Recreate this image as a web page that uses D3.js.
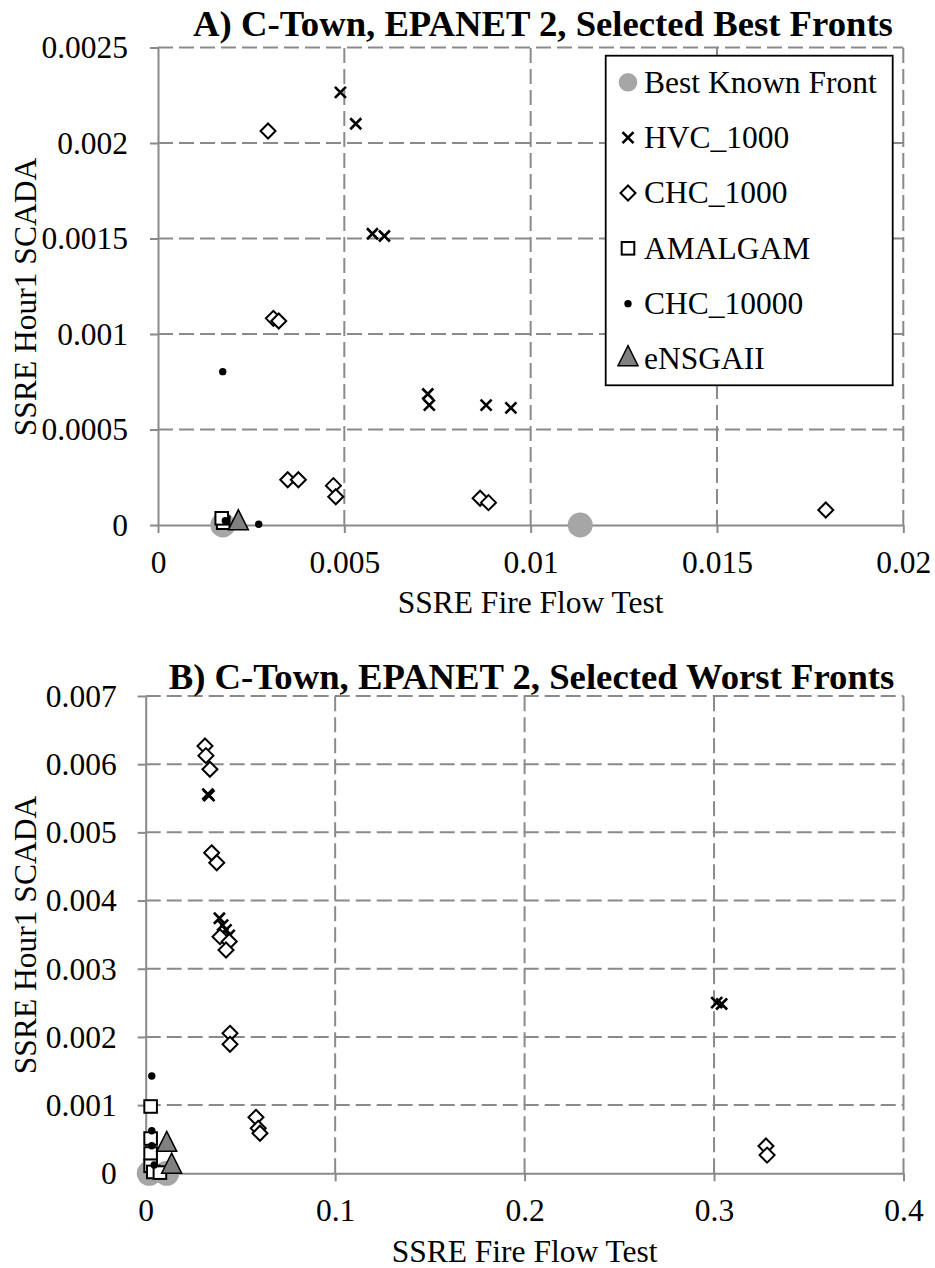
<!DOCTYPE html>
<html>
<head>
<meta charset="utf-8">
<script src="https://cdn.jsdelivr.net/npm/d3@7"></script>
<style>
  body { margin: 0; background: #fff; }
  svg { display: block; }
  text { font-family: "Liberation Serif", "Times New Roman", Times, "DejaVu Serif", serif; }
</style>
</head>
<body>
<svg id="chart" width="935" height="1268"></svg>
<script>
// series names / shapes (shared by both panels)
const seriesNames = ["Best Known Front", "HVC_1000", "CHC_1000", "AMALGAM", "CHC_10000", "eNSGAII"];
const seriesShapes = ["circle", "x", "diamond", "square", "dot", "triangle"];

// Panel A - best fronts  [SSRE fire flow, SSRE hour1]
const bestA = [[0.00174, 0], [0.01133, 0]];
const hvcA = [[0.004895, 0.002265], [0.005307, 0.002101], [0.005754, 0.001525], [0.006076, 0.001513],
              [0.00724, 0.000686], [0.00728, 0.000628], [0.008805, 0.000628], [0.00947, 0.000613]];
const chc1000A = [[0.002953, 0.002063], [0.003096, 0.001082], [0.00324, 0.001068], [0.003481, 0.000237],
                  [0.003767, 0.000237], [0.004707, 0.000206], [0.00477, 0.000148], [0.008644, 0.00014],
                  [0.008868, 0.000117], [0.01792, 0.0000785]];
const amalgamA = [[0.00175, 0.000012], [0.00171, 0.000035]];
const chc10000A = [[0.001737, 0.000803], [0.001808, 0.0000225], [0.002703, 0.000004]];
const ensgaA = [[0.002156, 0.00001]];

// Panel B - worst fronts
const bestB = [[0.0019, 0], [0.0111, 0]];
const hvcB = [[0.0328, 0.00556], [0.0334, 0.00554], [0.0389, 0.00374], [0.0406, 0.00364],
              [0.0424, 0.00357], [0.0441, 0.00349], [0.3014, 0.002502], [0.304, 0.002483]];
const chc1000B = [[0.0313, 0.006267], [0.0318, 0.006125], [0.0339, 0.005925], [0.0348, 0.0047],
                  [0.0375, 0.004555], [0.0392, 0.00347], [0.0441, 0.0034], [0.0424, 0.003275],
                  [0.0445, 0.002053], [0.0445, 0.001892], [0.0582, 0.000821], [0.0594, 0.00066],
                  [0.0603, 0.000587], [0.3274, 0.0004], [0.328, 0.000267]];
const amalgamB = [[0.0026, 0.00098], [0.0026, 0.00051], [0.0026, 0.00029], [0.0026, 0.00011],
                  [0.0040, 0.00002], [0.0075, 0.00001]];
const chc10000B = [[0.0032, 0.001427], [0.0032, 0.000625], [0.0032, 0.000405], [0.0045, 0.000122]];
const ensgaB = [[0.0111, 0.00042], [0.0137, 0.0001]];

// tick values
const xTicksA = [0, 0.005, 0.01, 0.015, 0.02];
const yTicksA = [0, 0.0005, 0.001, 0.0015, 0.002, 0.0025];
const xTicksB = [0, 0.1, 0.2, 0.3, 0.4];
const yTicksB = [0, 0.001, 0.002, 0.003, 0.004, 0.005, 0.006, 0.007];

const FONT = '"Liberation Serif", "Times New Roman", Times, "DejaVu Serif", serif';
const GRID = "#8a8a8a";
const svg = d3.select("#chart");

function drawMarker(g, shape, legend) {
    if (shape === "circle") {
        g.append("circle").attr("r", legend ? 9.3 : 12.5).attr("fill", "#a6a6a6");
    } else if (shape === "x") {
        g.append("path").attr("d", "M-5.5,-5.5L5.5,5.5M-5.5,5.5L5.5,-5.5")
         .attr("stroke", "#000").attr("stroke-width", 2.6).attr("fill", "none");
    } else if (shape === "diamond") {
        g.append("path").attr("d", "M0,-7.5L7.5,0L0,7.5L-7.5,0Z")
         .attr("fill", "#fff").attr("stroke", "#000").attr("stroke-width", 2);
    } else if (shape === "square") {
        g.append("rect").attr("x", -6.3).attr("y", -6.3).attr("width", 12.6).attr("height", 12.6)
         .attr("fill", "#fff").attr("stroke", "#000").attr("stroke-width", 2);
    } else if (shape === "dot") {
        g.append("circle").attr("r", 3.7).attr("fill", "#000");
    } else if (shape === "triangle") {
        g.append("path").attr("d", "M0,-13.3L10,6.7L-10,6.7Z")
         .attr("fill", "#808080").attr("stroke", "#000").attr("stroke-width", 1.5);
    }
}

function drawPanel(p) {
    const x = d3.scaleLinear().domain(p.xDomain).range(p.xRange);
    const y = d3.scaleLinear().domain(p.yDomain).range(p.yRange);
    const g = svg.append("g");
    const fmt = d => String(+d.toFixed(6));

    // dashed gridlines
    g.selectAll(".hgrid").data(p.yTicks.filter(d => d > 0)).join("line")
        .attr("x1", p.xRange[0]).attr("x2", p.xRange[1])
        .attr("y1", d => y(d)).attr("y2", d => y(d))
        .attr("stroke", GRID).attr("stroke-width", 2).attr("stroke-dasharray", "15,6");
    g.selectAll(".vgrid").data(p.xTicks.filter(d => d > 0)).join("line")
        .attr("x1", d => x(d)).attr("x2", d => x(d))
        .attr("y1", p.yRange[0]).attr("y2", p.yRange[1])
        .attr("stroke", GRID).attr("stroke-width", 2).attr("stroke-dasharray", "15,6");

    // axes
    const xAxis = g.append("g").attr("transform", `translate(0,${p.yRange[0]})`)
        .call(d3.axisBottom(x).tickValues(p.xTicks).tickFormat(fmt)
              .tickSizeInner(8).tickSizeOuter(0).tickPadding(17.5));
    const yAxis = g.append("g").attr("transform", `translate(${p.xRange[0]},0)`)
        .call(d3.axisLeft(y).tickValues(p.yTicks).tickFormat(fmt)
              .tickSizeInner(8).tickSizeOuter(0).tickPadding(p.yPad));
    [xAxis, yAxis].forEach(a => {
        a.attr("font-family", FONT).attr("font-size", 31.5);
        a.select(".domain").attr("stroke", GRID).attr("stroke-width", 2);
        a.selectAll(".tick line").attr("stroke", GRID).attr("stroke-width", 2);
        a.selectAll(".tick text").attr("fill", "#000")
         .style("font-family", FONT).style("font-size", "31.5px");
    });
    yAxis.selectAll(".tick text").attr("dy", "0.33em");

    // series, drawn in legend order
    p.series.forEach((data, i) => {
        data.forEach(d => {
            const m = g.append("g").attr("transform", `translate(${x(d[0])},${y(d[1])})`);
            drawMarker(m, seriesShapes[i], false);
        });
    });

    // titles
    g.append("text").attr("x", p.titleX).attr("y", p.titleY)
        .attr("text-anchor", "middle").style("font-family", FONT)
        .style("font-size", "36.7px").style("font-weight", "bold").text(p.title);
    g.append("text").attr("x", (p.xRange[0] + p.xRange[1]) / 2).attr("y", p.xTitleY)
        .attr("text-anchor", "middle").style("font-family", FONT)
        .style("font-size", "31.5px").text("SSRE Fire Flow Test");
    g.append("text")
        .attr("transform", `translate(36,${p.yTitleY}) rotate(-90)`)
        .attr("text-anchor", "middle").style("font-family", FONT)
        .style("font-size", "31.5px").text("SSRE Hour1 SCADA");

    return g;
}

drawPanel({
    xDomain: [0, 0.02], yDomain: [0, 0.0025],
    xRange: [158, 903.3], yRange: [525, 47.5],
    xTicks: xTicksA, yTicks: yTicksA, yPad: 22,
    series: [bestA, hvcA, chc1000A, amalgamA, chc10000A, ensgaA],
    title: "A) C-Town, EPANET 2, Selected Best Fronts", titleX: 543, titleY: 35.5,
    xTitleY: 613, yTitleY: 297
});

drawPanel({
    xDomain: [0, 0.4], yDomain: [0, 0.007],
    xRange: [145.7, 903.5], yRange: [1173.3, 696],
    xTicks: xTicksB, yTicks: yTicksB, yPad: 21,
    series: [bestB, hvcB, chc1000B, amalgamB, chc10000B, ensgaB],
    title: "B) C-Town, EPANET 2, Selected Worst Fronts", titleX: 531.5, titleY: 688.5,
    xTitleY: 1261.5, yTitleY: 935
});

// legend for panel A
const legend = svg.append("g");
legend.append("rect").attr("x", 605.7).attr("y", 55.7).attr("width", 287).attr("height", 329.6)
    .attr("fill", "#fff").attr("stroke", "#000").attr("stroke-width", 1.8);
const legendY = d3.scalePoint().domain(seriesNames).range([82.3, 359]);
seriesNames.forEach((name, i) => {
    const m = legend.append("g").attr("transform", `translate(628,${legendY(name)})`);
    drawMarker(m, seriesShapes[i], true);
    legend.append("text").attr("x", 644).attr("y", legendY(name)).attr("dy", "0.33em")
        .style("font-family", FONT).style("font-size", "31.5px").text(name);
});
</script>
</body>
</html>
